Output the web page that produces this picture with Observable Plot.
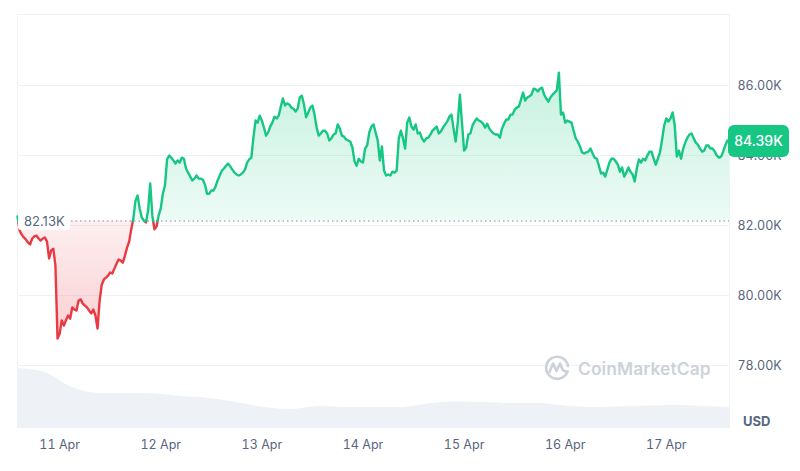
<!DOCTYPE html>
<html>
<head>
<meta charset="utf-8">
<script src="https://cdn.jsdelivr.net/npm/d3@7"></script>
<script src="https://cdn.jsdelivr.net/npm/@observablehq/plot@0.6"></script>
<style>
  html, body { margin: 0; padding: 0; background: #ffffff; }
  #wrap { position: relative; width: 800px; height: 471px; font-family: Inter, "Noto Sans", sans-serif; overflow: hidden; }
  #wrap > svg { position: absolute; left: 0; top: 0; }
  .ov { position: absolute; white-space: nowrap; }
</style>
</head>
<body>
<div id="wrap"></div>
<script>
// ---------- data ----------
const startTime = "2025-04-10T14:00:00Z";   // first sample
const stepMinutes = 30;                      // sampling interval of priceK
const priceK = [
  82.26, 81.86, 81.74, 81.66, 81.60, 81.51, 81.46, 81.63, 81.69, 81.71,
  81.63, 81.57, 81.63, 81.66, 81.54, 81.06, 81.29, 81.34, 80.86, 78.77,
  78.91, 79.29, 79.14, 79.29, 79.43, 79.34, 79.66, 79.60, 79.57, 79.86,
  79.89, 79.77, 79.71, 79.66, 79.57, 79.49, 79.60, 79.43, 79.06, 79.86,
  80.31, 80.46, 80.51, 80.57, 80.66, 80.63, 80.77, 80.91, 81.03, 81.00,
  80.94, 81.14, 81.37, 81.54, 81.89, 82.20, 82.71, 82.86, 82.49, 82.23,
  82.14, 82.09, 82.43, 83.20, 82.29, 81.89, 81.97, 82.29, 82.49, 82.91,
  83.14, 83.89, 84.00, 83.94, 83.86, 83.77, 83.86, 83.80, 83.94, 83.91,
  83.63, 83.51, 83.40, 83.29, 83.34, 83.43, 83.34, 83.34, 83.31, 83.17,
  82.91, 82.91, 83.00, 83.00, 83.11, 83.29, 83.43, 83.57, 83.63, 83.71,
  83.77, 83.69, 83.60, 83.51, 83.46, 83.43, 83.46, 83.51, 83.60, 83.80,
  83.89, 83.94, 84.51, 85.00, 84.94, 85.14, 85.00, 84.80, 84.57, 84.66,
  84.83, 84.94, 85.11, 85.06, 85.14, 85.40, 85.63, 85.43, 85.49, 85.46,
  85.37, 85.34, 85.26, 85.34, 85.66, 85.71, 85.46, 85.09, 85.23, 85.37,
  85.43, 85.17, 84.80, 84.57, 84.63, 84.71, 84.71, 84.63, 84.43, 84.49,
  84.60, 84.63, 84.89, 84.77, 84.57, 84.54, 84.46, 84.43, 84.40, 84.23,
  83.83, 83.71, 83.91, 83.83, 83.80, 84.20, 84.29, 84.66, 84.83, 84.89,
  84.66, 84.43, 83.86, 84.26, 83.57, 83.43, 83.46, 83.43, 83.54, 83.51,
  83.57, 84.49, 84.71, 84.49, 84.20, 84.94, 85.09, 84.83, 84.74, 84.89,
  84.63, 84.66, 84.49, 84.40, 84.49, 84.51, 84.60, 84.71, 84.77, 84.83,
  84.63, 84.69, 84.80, 84.89, 84.97, 85.11, 85.17, 84.77, 84.40, 84.94,
  85.74, 84.94, 84.14, 84.23, 84.60, 84.63, 84.86, 84.97, 85.06, 85.00,
  84.97, 84.91, 84.80, 84.91, 84.77, 84.69, 84.63, 84.60, 84.60, 84.51,
  84.77, 84.91, 85.03, 85.03, 85.17, 85.17, 85.31, 85.37, 85.40, 85.60,
  85.80, 85.57, 85.66, 85.69, 85.74, 85.91, 85.89, 85.83, 85.91, 85.94,
  85.74, 85.63, 85.54, 85.66, 85.74, 85.80, 85.86, 86.37, 85.17, 85.23,
  84.94, 85.00, 84.97, 84.94, 84.71, 84.49, 84.40, 84.26, 84.09, 84.06,
  84.09, 84.11, 84.20, 84.06, 83.94, 83.91, 83.71, 83.49, 83.51, 83.40,
  83.60, 83.80, 83.91, 83.91, 83.83, 83.74, 83.54, 83.66, 83.40, 83.51,
  83.66, 83.54, 83.46, 83.26, 83.63, 83.89, 83.80, 83.91, 83.86, 84.00,
  84.11, 84.11, 83.91, 83.74, 83.91, 84.09, 84.46, 84.86, 85.06, 84.97,
  85.06, 85.23, 84.86, 83.97, 84.14, 83.91, 84.20, 84.37, 84.51, 84.60,
  84.63, 84.49, 84.37, 84.31, 84.20, 84.11, 84.14, 84.29, 84.29, 84.20,
  84.20, 84.11, 84.00, 83.94, 83.97, 84.11, 84.29, 84.43, 84.39
];
const baselineK = 82.13;                     // opening price (dotted reference line)
const volStepMinutes = 390;                  // sampling interval of volumeB
const volumeB = [59, 55, 40, 34, 34, 33.5, 31, 29, 25, 20, 18, 21, 20, 20, 20,
                 23.5, 25.5, 25, 24, 24, 21.5, 20, 20.5, 21.5, 22, 21, 20];
const yTicks = [78, 80, 82, 84, 86];
const currency = "USD";
const brand = "CoinMarketCap";

// ---------- styling ----------
const UP = "#16c784", DOWN = "#ea3943", TXT = "#58667e", GRID = "#eff2f5";
const W = 800, H = 471;
const M = { top: 14, right: 71, bottom: 44, left: 17 };

// ---------- derived tables ----------
const t0 = new Date(startTime);
const prices = priceK.map((p, i) => ({ date: new Date(+t0 + i * stepMinutes * 60000), price: p }));
const vols = volumeB.map((v, i) => ({ date: new Date(+t0 + i * volStepMinutes * 60000), vol: v }));
const first = prices[0].date, last = prices[prices.length - 1].date;

// split the series where it crosses the baseline
const segs = [];
let seg = 0, prevSide = null;
prices.forEach((d, i) => {
  const side = d.price >= baselineK ? "up" : "down";
  if (i > 0 && side !== prevSide) {
    const a = prices[i - 1];
    const f = (baselineK - a.price) / (d.price - a.price);
    const c = { date: new Date(+a.date + f * (d.date - a.date)), price: baselineK };
    segs.push({ ...c, seg, side: prevSide });
    seg++;
    segs.push({ ...c, seg, side });
  }
  segs.push({ ...d, seg, side });
  prevSide = side;
});

const dayTicks = d3.utcDay.range(d3.utcDay.ceil(first), last);

// ---------- volume layer ----------
const volPlot = Plot.plot({
  width: W, height: H,
  marginLeft: M.left, marginRight: M.right, marginTop: 368, marginBottom: M.bottom,
  style: { background: "transparent" },
  x: { type: "utc", domain: [first, last], axis: null },
  y: { domain: [0, d3.max(volumeB)], axis: null },
  marks: [
    Plot.areaY(vols, { x: "date", y: "vol", fill: "#eef1f5", curve: "monotone-x" })
  ]
});

// ---------- price layer ----------
const main = Plot.plot({
  width: W, height: H,
  marginLeft: M.left, marginRight: M.right, marginTop: M.top, marginBottom: M.bottom,
  style: { background: "transparent", fontFamily: "Inter, 'Noto Sans', sans-serif", fontSize: "12.5px", color: TXT, overflow: "visible" },
  x: { type: "utc", domain: [first, last], ticks: dayTicks, tickFormat: d3.utcFormat("%-d %b"), tickSize: 0, tickPadding: 13, label: null },
  y: { domain: [76.23, 88.03], ticks: yTicks, tickFormat: d => d.toFixed(2) + "K", axis: "right", tickSize: 0, tickPadding: 8, label: null },
  marks: [
    Plot.ruleY(yTicks, { stroke: GRID, strokeWidth: 1 }),
    Plot.frame({ stroke: GRID }),
    Plot.areaY(segs, { x: "date", y1: () => baselineK, y2: d => Math.max(d.price, baselineK), fill: "url(#gUp)" }),
    Plot.areaY(segs, { x: "date", y1: () => baselineK, y2: d => Math.min(d.price, baselineK), fill: "url(#gDown)" }),
    Plot.ruleY([baselineK], { stroke: "#a6b0c3", strokeWidth: 1.3, strokeDasharray: "1.5,3" }),
    Plot.line(segs.filter(d => d.side === "down"), { x: "date", y: "price", z: "seg", stroke: DOWN, strokeWidth: 2.4, strokeLinejoin: "round" }),
    Plot.line(segs.filter(d => d.side === "up"), { x: "date", y: "price", z: "seg", stroke: UP, strokeWidth: 2.4, strokeLinejoin: "round" })
  ]
});

// gradients sized from the y scale
const ys = main.scale("y"), xs = main.scale("x");
const yBase = ys.apply(baselineK), yHi = ys.apply(d3.max(priceK)), yLo = ys.apply(d3.min(priceK));
const NS = "http://www.w3.org/2000/svg";
const defs = document.createElementNS(NS, "defs");
function grad(id, y1, y2, color, o1, o2) {
  const g = document.createElementNS(NS, "linearGradient");
  g.setAttribute("id", id); g.setAttribute("gradientUnits", "userSpaceOnUse");
  g.setAttribute("x1", 0); g.setAttribute("x2", 0); g.setAttribute("y1", y1); g.setAttribute("y2", y2);
  [[0, o1], [1, o2]].forEach(([off, op]) => {
    const s = document.createElementNS(NS, "stop");
    s.setAttribute("offset", off); s.setAttribute("stop-color", color); s.setAttribute("stop-opacity", op);
    g.appendChild(s);
  });
  defs.appendChild(g);
}
grad("gUp", yHi, yBase, UP, 0.24, 0.08);
grad("gDown", yBase, yLo, DOWN, 0.08, 0.24);
main.insertBefore(defs, main.firstChild);

const wrap = document.getElementById("wrap");
wrap.appendChild(volPlot);
wrap.appendChild(main);

// ---------- overlays ----------
const xRight = xs.range[1], xLeft = xs.range[0];
const lastP = priceK[priceK.length - 1];

// watermark
const wm = document.createElement("div");
wm.className = "ov";
wm.style.cssText = `left:${xLeft + 526}px; top:${H - M.bottom - 73}px; display:flex; align-items:center; gap:7px; color:#cdd2da; font-size:17.4px; font-weight:600; letter-spacing:0.1px;`;
wm.innerHTML = `<svg width="28" height="28" viewBox="0 0 28 28"><path d="M24.5 17.5 A11 11 0 1 1 25 12" fill="none" stroke="#cdd2da" stroke-width="2.6" stroke-linecap="round"/><path d="M6.5 18 L10 9.5 L13.5 17 L17 9.5 L19.5 15.5 Q21 18 24.5 17.5" fill="none" stroke="#cdd2da" stroke-width="2.6" stroke-linejoin="round" stroke-linecap="round"/></svg><span>${brand}</span>`;
wrap.appendChild(wm);

// baseline label
const bl = document.createElement("div");
bl.className = "ov";
bl.style.cssText = `left:${xLeft + 1}px; top:${yBase - 9}px; height:18px; line-height:18px; padding:0 5px 0 6px; background:#ffffff; border-radius:3px; color:${TXT}; font-size:13px;`;
bl.textContent = baselineK.toFixed(2) + "K";
wrap.appendChild(bl);

// last price badge
const badge = document.createElement("div");
badge.className = "ov";
badge.style.cssText = `left:${xRight - 1}px; top:${ys.apply(lastP) - 16}px; width:61px; height:32px; line-height:32px; text-align:center; background:${UP}; border-radius:6px; color:#ffffff; font-size:14px; font-weight:500;`;
badge.textContent = lastP.toFixed(2) + "K";
wrap.appendChild(badge);

// currency label
const cur = document.createElement("div");
cur.className = "ov";
cur.style.cssText = `left:${xRight + 14}px; top:${H - M.bottom - 14}px; color:${TXT}; font-size:13px; font-weight:700;`;
cur.textContent = currency;
wrap.appendChild(cur);
</script>
</body>
</html>
